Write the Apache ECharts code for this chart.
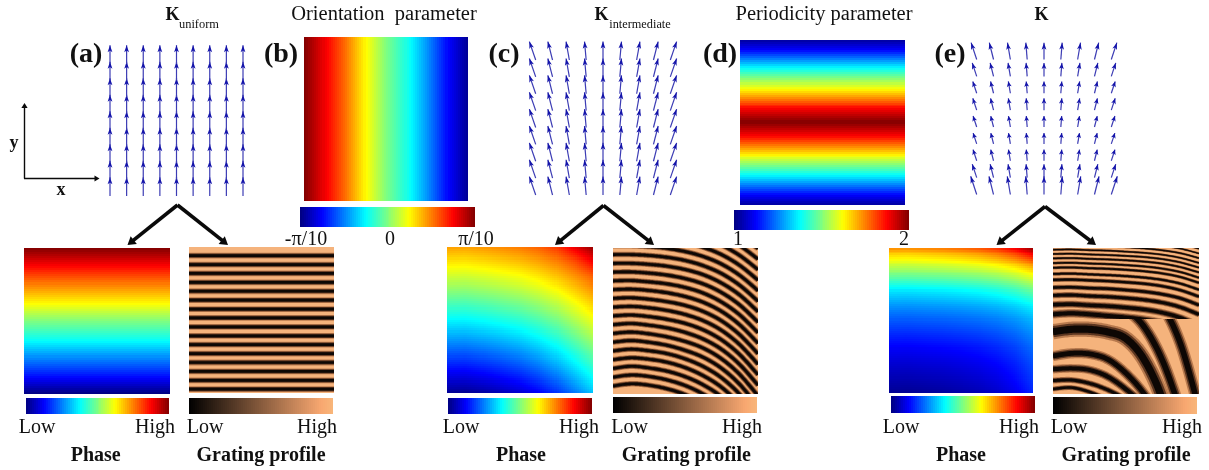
<!DOCTYPE html>
<html><head><meta charset="utf-8">
<script src="https://cdn.jsdelivr.net/npm/echarts@6/dist/echarts.min.js"></script>
<style>html,body{margin:0;padding:0;background:#fff}#c{width:1209px;height:470px;filter:blur(.45px)}</style>
</head><body><div id="c"></div>
<script>
// ---------- values ----------
// phase / parameter fields: positions in % of panel, values 0..1 of the colour scale
const panelStops = [0,12.5,25,37.5,50,62.5,75,87.5,100];
const tenths = [0,10,20,30,40,50,60,70,80,90,100];
const phaseAValues = [1,.875,.75,.63,.5,.39,.26,.14,0];
const orientationValues = [1,.89,.77,.63,.5,.40,.27,.13,.02];
const periodicityRows = [0,6,17,29.5,41.5,50,58,70,82,94,100];
const periodicityValues = [.03,.125,.375,.625,.875,1,.875,.625,.375,.125,.03];
const scaleBarValues = [0,.125,.25,.375,.5,.625,.75,.875,1];
const phaseC = [
 [.72,.718,.728,.741,.756,.78,.82,.9,.98],
 [.65,.648,.659,.673,.688,.713,.747,.80,.88],
 [.58,.578,.589,.604,.62,.647,.684,.732,.784],
 [.51,.508,.52,.535,.553,.581,.619,.671,.726],
 [.44,.438,.45,.467,.485,.515,.555,.609,.667],
 [.37,.368,.381,.398,.418,.449,.491,.549,.609],
 [.30,.298,.312,.329,.35,.383,.427,.487,.551],
 [.23,.228,.242,.261,.282,.316,.363,.426,.493],
 [.16,.158,.173,.192,.215,.25,.299,.364,.434],
 [.09,.088,.103,.124,.147,.184,.235,.303,.376],
 [.02,.018,.034,.055,.079,.118,.171,.242,.318]];
const phaseERows = [0,5,10,15,20,30,40,50,60,70,80,90,100];
const phaseE = [
 [.74,.738,.747,.757,.774,.795,.831,.889,.98],
 [.66,.658,.666,.675,.689,.708,.74,.79,.87],
 [.595,.593,.6,.607,.618,.633,.658,.697,.76],
 [.53,.529,.534,.54,.55,.562,.583,.617,.67],
 [.47,.469,.474,.479,.488,.5,.519,.551,.60],
 [.345,.344,.349,.354,.363,.374,.393,.423,.47],
 [.27,.269,.273,.277,.283,.292,.306,.329,.365],
 [.21,.209,.213,.216,.223,.231,.244,.266,.30],
 [.16,.159,.163,.167,.174,.183,.198,.222,.26],
 [.115,.114,.118,.123,.13,.14,.157,.183,.225],
 [.08,.079,.084,.088,.097,.108,.126,.154,.20],
 [.05,.049,.054,.059,.068,.08,.099,.131,.18],
 [.02,.019,.024,.03,.04,.052,.073,.107,.16]];
// dark grating stripes: y (% of panel height) at each of panelStops
const stripesA = [5.9,12,18.1,24.2,30.3,36.4,42.5,48.6,54.7,60.8,66.9,73,79.1,85.2,91.3,97.4];
const stripesC = [
 [-25.5,-25.5,-25,-23.9,-22.1,-19.3,-14.9,-8.4,.4],
 [-19.5,-19.5,-19,-17.9,-16,-13,-8.4,-1.6,7.6],
 [-13.5,-13.5,-12.9,-11.8,-9.8,-6.7,-1.9,5.2,14.8],
 [-7.5,-7.5,-6.9,-5.7,-3.7,-.4,4.6,12,22],
 [-1.5,-1.5,-.9,.3,2.5,5.9,11.1,18.8,29.2],
 [4.5,4.5,5.1,6.4,8.6,12.2,17.6,25.6,36.4],
 [10.5,10.5,11.2,12.5,14.8,18.4,24.1,32.3,43.6],
 [16.5,16.4,17.2,18.6,21,24.7,30.6,39.1,50.8],
 [22.5,22.3,23.2,24.6,27.1,31,37.1,45.9,58],
 [28.5,28.2,29.1,30.7,33.3,37.3,43.5,52.7,65.2],
 [34.5,34.1,35.1,36.8,39.4,43.6,50,59.5,72.4],
 [40.5,40,41,42.8,45.6,49.9,56.5,66.3,79.6],
 [46.5,45.9,47,48.9,51.7,56.2,63,73.1,86.8],
 [52.5,51.7,52.9,54.8,57.9,62.5,69.5,79.9,94],
 [58.5,57.6,58.8,60.9,64.1,68.7,76,86.7,101.2],
 [64.5,63.4,64.6,66.7,70.2,75,82.5,93.5,108.4],
 [70.5,69.3,70.4,72.4,76,81.3,89,100.3,115.6],
 [76.5,75.2,76.2,78.3,82,87.6,95.5,107.1,122.8],
 [82.5,81,82.2,84.4,88.2,93.9,102,113.9,130],
 [88.5,87,88,90.4,94.3,100.2,108.5,120.6,137.2],
 [94.5,93,94,96.5,100.5,107,115,127.4,144.4]];
const stripesEUpper = [
 [-7.5,-7.7,-7.3,-6.9,-6.4,-5.7,-4.5,-2.5,.5],
 [-4.6,-4.8,-4.4,-4,-3.4,-2.7,-1.4,.5,3.7],
 [-1.7,-1.9,-1.4,-1.1,-.5,.3,1.6,3.6,6.9],
 [1.2,1,1.5,1.8,2.5,3.3,4.6,6.8,10.2],
 [4.1,3.9,4.4,4.8,5.4,6.2,7.6,9.9,13.4],
 [7.1,6.9,7.4,7.8,8.4,9.3,10.7,13.1,16.7],
 [10.3,10.1,10.6,11,11.7,12.6,14.1,16.5,20.3],
 [13.5,13.3,13.8,14.2,14.9,15.9,17.4,19.9,23.8],
 [17.7,17.5,18,18.5,19.2,20.2,21.8,24.4,28.5],
 [21.8,21.6,22.1,22.6,23.4,24.4,26.1,28.9,33.2],
 [27,26.8,27.4,27.8,28.7,29.8,31.6,34.4,39],
 [32.4,32.1,32.8,33.3,34.2,35.4,37.3,40.5,45.4],
 [38.7,38.4,39.1,39.7,40.7,42,44.2,47.7,53.2],
 [45.3,44.6,45.3,46.4,47.5,49,51.4,55.2,61.3]];
const stripesEUpperWidth = [1.2,1.3,1.5,1.5,1.6,1.7,1.8,2,2.2,2.6,3,3.5,4.2,5];
const stripesELower = [
 [57.2,55.6,55.6,57.4,62,76.5,104,150,190],
 [20,20,22,28,41,54,77,112,150],
 [10,10,12,16,22,30,40,66,110],
 [73.9,72.1,72.5,76.2,85.8,100,120,150,180],
 [83,82.4,83.5,88.1,96.8,108,125,150,180],
 [90.8,90.4,92.7,97.2,104,115,130,150,180],
 [96.6,95.6,98.6,104,112,122,135,150,180]];
const stripesELowerWidth = [9,7,7,6,5,3.6,3];
// arrow fields: K components per column / row (in grid steps)
const kySlopeA = [0,0,0,0,0,0,0,0,0];
const kRowsA = [1.14,1.14,1.14,1.14,1.14,1.14,1.14,1.14,1.14];
const slopeC = [-.345,-.255,-.18,-.09,0,.09,.18,.255,.345];
const kRowsC = [1.09,1.09,1.09,1.09,1.09,1.09,1.09,1.09,1.09];
const slopeE = [-.33,-.25,-.17,-.08,0,.08,.17,.25,.33];
const kRowsE = [1.08,.8,.66,.64,.65,.7,.7,.8,1.0];
// texts
const panelLetters = ['(a)','(b)','(c)','(d)','(e)'];
const lowHigh = ['Low','High'];
const captions = ['Phase','Grating profile'];
const fieldTitles = ['Orientation  parameter','Periodicity parameter'];
const kTitles = ['K','uniform','intermediate'];
const orientationTicks = ['-π/10','0','π/10'];
const periodicityTicks = ['1','2'];

// ---------- drawing ----------
const lerp=(a,b,t)=>a+(b-a)*t;
function jet(v){v=Math.max(0,Math.min(1,v));
 const c=(x)=>Math.round(255*Math.max(0,Math.min(1,1.5-Math.abs(4*v-x))));
 return `rgb(${c(3)},${c(2)},${c(1)})`;}
function copper(v){v=Math.max(0,Math.min(1,v));
 return `rgb(${Math.round(Math.min(248,270*v))},${Math.round(182*v)},${Math.round(122*v)})`;}

const grids=[],xAxes=[],yAxes=[],series=[];
function addGrid(r,xr,yr,inv,bg){
 const i=grids.length;
 grids.push({left:r[0],top:r[1],width:r[2]-r[0],height:r[3]-r[1],containLabel:false,show:!!bg,backgroundColor:bg||'transparent',borderWidth:0});
 xAxes.push({type:'value',gridIndex:i,min:xr[0],max:xr[1],show:false});
 yAxes.push({type:'value',gridIndex:i,min:yr[0],max:yr[1],inverse:inv,show:false});
 return i;
}
// one custom-series item per table cell; each cell is shaded between its four table values
function field(rect,xs,ys,table,cmap){
 const g=addGrid(rect,[xs[0],xs[xs.length-1]],[ys[0],ys[ys.length-1]],true);
 const data=[];
 for(let r=0;r<ys.length-1;r++)for(let c=0;c<xs.length-1;c++)
  data.push([xs[c],xs[c+1],ys[r],ys[r+1],table[r][c],table[r][c+1],table[r+1][c],table[r+1][c+1]]);
 series.push({type:'custom',xAxisIndex:g,yAxisIndex:g,silent:true,animation:false,clip:true,data,
  encode:{x:[0,1],y:[2,3]},
  renderItem(p,api){
   const a=api.coord([api.value(0),api.value(2)]),b=api.coord([api.value(1),api.value(3)]);
   const v=[4,5,6,7].map(k=>api.value(k));
   const nx=(v[0]===v[1]&&v[2]===v[3])?1:Math.max(1,Math.round((b[0]-a[0])/2));
   const ny=(v[0]===v[2]&&v[1]===v[3])?1:Math.max(1,Math.round((b[1]-a[1])/2));
   const ch=[];
   for(let i=0;i<nx;i++)for(let j=0;j<ny;j++){
    const tx=(i+.5)/nx,ty=(j+.5)/ny;
    const val=lerp(lerp(v[0],v[1],tx),lerp(v[2],v[3],tx),ty);
    const x0=Math.round(lerp(a[0],b[0],i/nx)),x1=Math.round(lerp(a[0],b[0],(i+1)/nx));
    const y0=Math.round(lerp(a[1],b[1],j/ny)),y1=Math.round(lerp(a[1],b[1],(j+1)/ny));
    ch.push({type:'rect',shape:{x:x0,y:y0,width:x1-x0,height:y1-y0},style:{fill:cmap(val)}});
   }
   return {type:'group',children:ch};
  }});
}
// smooth curve through the read points of a stripe
function spline(pts){
 if(pts.length<3)return pts;
 const out=[];
 for(let i=0;i<pts.length-1;i++){
  const p0=pts[Math.max(0,i-1)],p1=pts[i],p2=pts[i+1],p3=pts[Math.min(pts.length-1,i+2)];
  for(let k=0;k<12;k++){const t=k/12,t2=t*t,t3=t2*t;
   out.push([0,1].map(d=>.5*(2*p1[d]+(p2[d]-p0[d])*t+(2*p0[d]-5*p1[d]+4*p2[d]-p3[d])*t2+(3*p1[d]-p0[d]-3*p2[d]+p3[d])*t3)));}
 }
 out.push(pts[pts.length-1]);
 return out;
}
function stripes(g,xs,list,widths){
 const layers=[[1.7,'#b87a4e'],[1.25,'#5c3620'],[.8,'#0d0704']];
 layers.forEach(([k,col])=>{
  series.push({type:'custom',xAxisIndex:g,yAxisIndex:g,silent:true,animation:false,
   data:list.map((ys,i)=>[...ys,widths[i]]),
   renderItem(p,api){
    const pts=xs.map((x,n)=>api.coord([x,api.value(n)]));
    const cs=p.coordSys;
    return {type:'polyline',shape:{points:spline(pts)},
     style:{stroke:col,fill:null,lineWidth:api.value(xs.length)*k,lineCap:'butt',lineJoin:'round'},
     clipPath:{type:'rect',shape:{x:cs.x,y:cs.y,width:cs.width,height:cs.height}}};
   }});
 });
}
function quiver(rect,slope,rows){
 const g=addGrid(rect,[0,8],[0,8],false);
 const data=[];
 for(let c=0;c<9;c++)for(let r=0;r<9;r++)data.push([c,r,slope[c]*rows[r],rows[r]]);
 series.push({type:'custom',xAxisIndex:g,yAxisIndex:g,silent:true,animation:false,data,
  encode:{x:0,y:1},
  renderItem(p,api){
   const t=api.coord([api.value(0),api.value(1)]);
   const e=api.coord([api.value(0)+api.value(2),api.value(1)+api.value(3)]);
   const dx=e[0]-t[0],dy=e[1]-t[1],L=Math.hypot(dx,dy),ux=dx/L,uy=dy/L;
   const hl=Math.min(7,L*.45),hw=2.4;
   const bx=e[0]-ux*hl,by=e[1]-uy*hl,nx=e[0]-ux*hl*.75,ny=e[1]-uy*hl*.75;
   return {type:'group',children:[
    {type:'line',shape:{x1:t[0],y1:t[1],x2:e[0],y2:e[1]},style:{stroke:'#3c3cb4',lineWidth:1.2}},
    {type:'polygon',shape:{points:[[e[0],e[1]],[bx-uy*hw,by+ux*hw],[nx,ny],[bx+uy*hw,by-ux*hw]]},style:{fill:'#1414aa'}}
   ]};
  }});
}
const ALL=[0,100];
// fields
field([24,248,170,394],ALL,panelStops,phaseAValues.map(v=>[v,v]),jet);
field([304,37,468,201],panelStops,ALL,[orientationValues,orientationValues],jet);
field([447,247,593,393],panelStops,tenths,phaseC,jet);
field([740,40,905,205],ALL,periodicityRows,periodicityValues.map(v=>[v,v]),jet);
field([889,248,1033,393],panelStops,phaseERows,phaseE,jet);
// colour scales
[[300,207,475,227],[734,210,909,230],[26,398,169,414],[448,398,592,414],[891,396,1035,413]].forEach(r=>
 field(r,panelStops,ALL,[scaleBarValues,scaleBarValues],jet));
[[189,398,333,414],[613,397,757,413],[1053,397,1197,414]].forEach(r=>
 field(r,panelStops,ALL,[scaleBarValues,scaleBarValues],copper));
// gratings
const TAN='#f5b37c';
stripes(addGrid([189,247,334,393],ALL,ALL,true,TAN),ALL,stripesA.map(y=>[y,y]),stripesA.map(()=>3.4));
stripes(addGrid([613,248,758,394],ALL,ALL,true,TAN),panelStops,stripesC,stripesC.map(()=>3.3));
stripes(addGrid([1053,248,1199,319],ALL,[0,48.5],true,TAN),panelStops,stripesEUpper,stripesEUpperWidth);
stripes(addGrid([1053,319,1199,394],ALL,[48.5,100],true,TAN),panelStops,stripesELower,stripesELowerWidth);
// arrow fields
quiver([110,64,243,196],kySlopeA,kRowsA);
quiver([535.7,60,670.3,195],slopeC,kRowsC);
quiver([976.7,59.5,1111.3,194.5],slopeE,kRowsE);

// annotation layer
const SERIF='"Liberation Serif","Times New Roman",serif';
const gfx=[];
function txt(t,x,y,size,bold,align){gfx.push({type:'text',silent:true,style:{text:t,x,y:y+2,fill:'#111',
 font:`${bold?'bold ':''}${size}px ${SERIF}`,textAlign:align||'center',textVerticalAlign:'middle'},z:50});}
function bigArrow(x0,y0,x1,y1,w,h){
 const L=Math.hypot(x1-x0,y1-y0),ux=(x1-x0)/L,uy=(y1-y0)/L,hw=h*.62;
 const bx=x1-ux*h,by=y1-uy*h;
 gfx.push({type:'line',silent:true,shape:{x1:x0,y1:y0,x2:bx+ux,y2:by+uy},style:{stroke:'#0a0a0a',lineWidth:w},z:40});
 gfx.push({type:'polygon',silent:true,shape:{points:[[x1,y1],[bx-uy*hw,by+ux*hw],[bx+uy*hw,by-ux*hw]]},style:{fill:'#0a0a0a'},z:40});
}
[[177.5,205,127.5,245,228,245],[603.5,205.5,555,245,654,245],[1045,206.5,996.5,245,1096,245]].forEach(a=>{
 bigArrow(a[0],a[1],a[2],a[3],3.6,8);bigArrow(a[0],a[1],a[4],a[5],3.6,8);});
bigArrow(24.5,178.5,24.5,103,1.4,5);bigArrow(24,178.5,99.5,178.5,1.4,5);
txt('y',14,141,18,true);txt('x',61,188,18,true);
[[86,53],[281,53],[504,53],[720,53],[950,53]].forEach((p,i)=>txt(panelLetters[i],p[0],p[1],28,true));
txt(fieldTitles[0],384,13,20.5);txt(fieldTitles[1],824,13,20.5);
txt(kTitles[0],172.5,13,18,true);txt(kTitles[1],199,22.5,12.4);
txt(kTitles[0],601.5,13,18,true);txt(kTitles[2],640,22.5,12.3);
txt(kTitles[0],1041.5,13,18,true);
txt(orientationTicks[0],306,238,20);txt(orientationTicks[1],390,238,20);txt(orientationTicks[2],476,238,20);
txt(periodicityTicks[0],738,238,20);txt(periodicityTicks[1],904,238,20);
[[37,155,205,317],[461,579,629.5,742],[901,1019,1069,1182]].forEach(p=>{
 txt(lowHigh[0],p[0],426,20);txt(lowHigh[1],p[1],426,20);txt(lowHigh[0],p[2],426,20);txt(lowHigh[1],p[3],426,20);});
[[95.7,261],[521,686.3],[961,1126]].forEach(p=>{txt(captions[0],p[0],454,20,true);txt(captions[1],p[1],454,20,true);});

const chart=echarts.init(document.getElementById('c'),null,{renderer:'canvas'});
chart.setOption({animation:false,backgroundColor:'#fff',tooltip:{show:false},
 grid:grids,xAxis:xAxes,yAxis:yAxes,series,graphic:{elements:gfx}});
</script></body></html>
